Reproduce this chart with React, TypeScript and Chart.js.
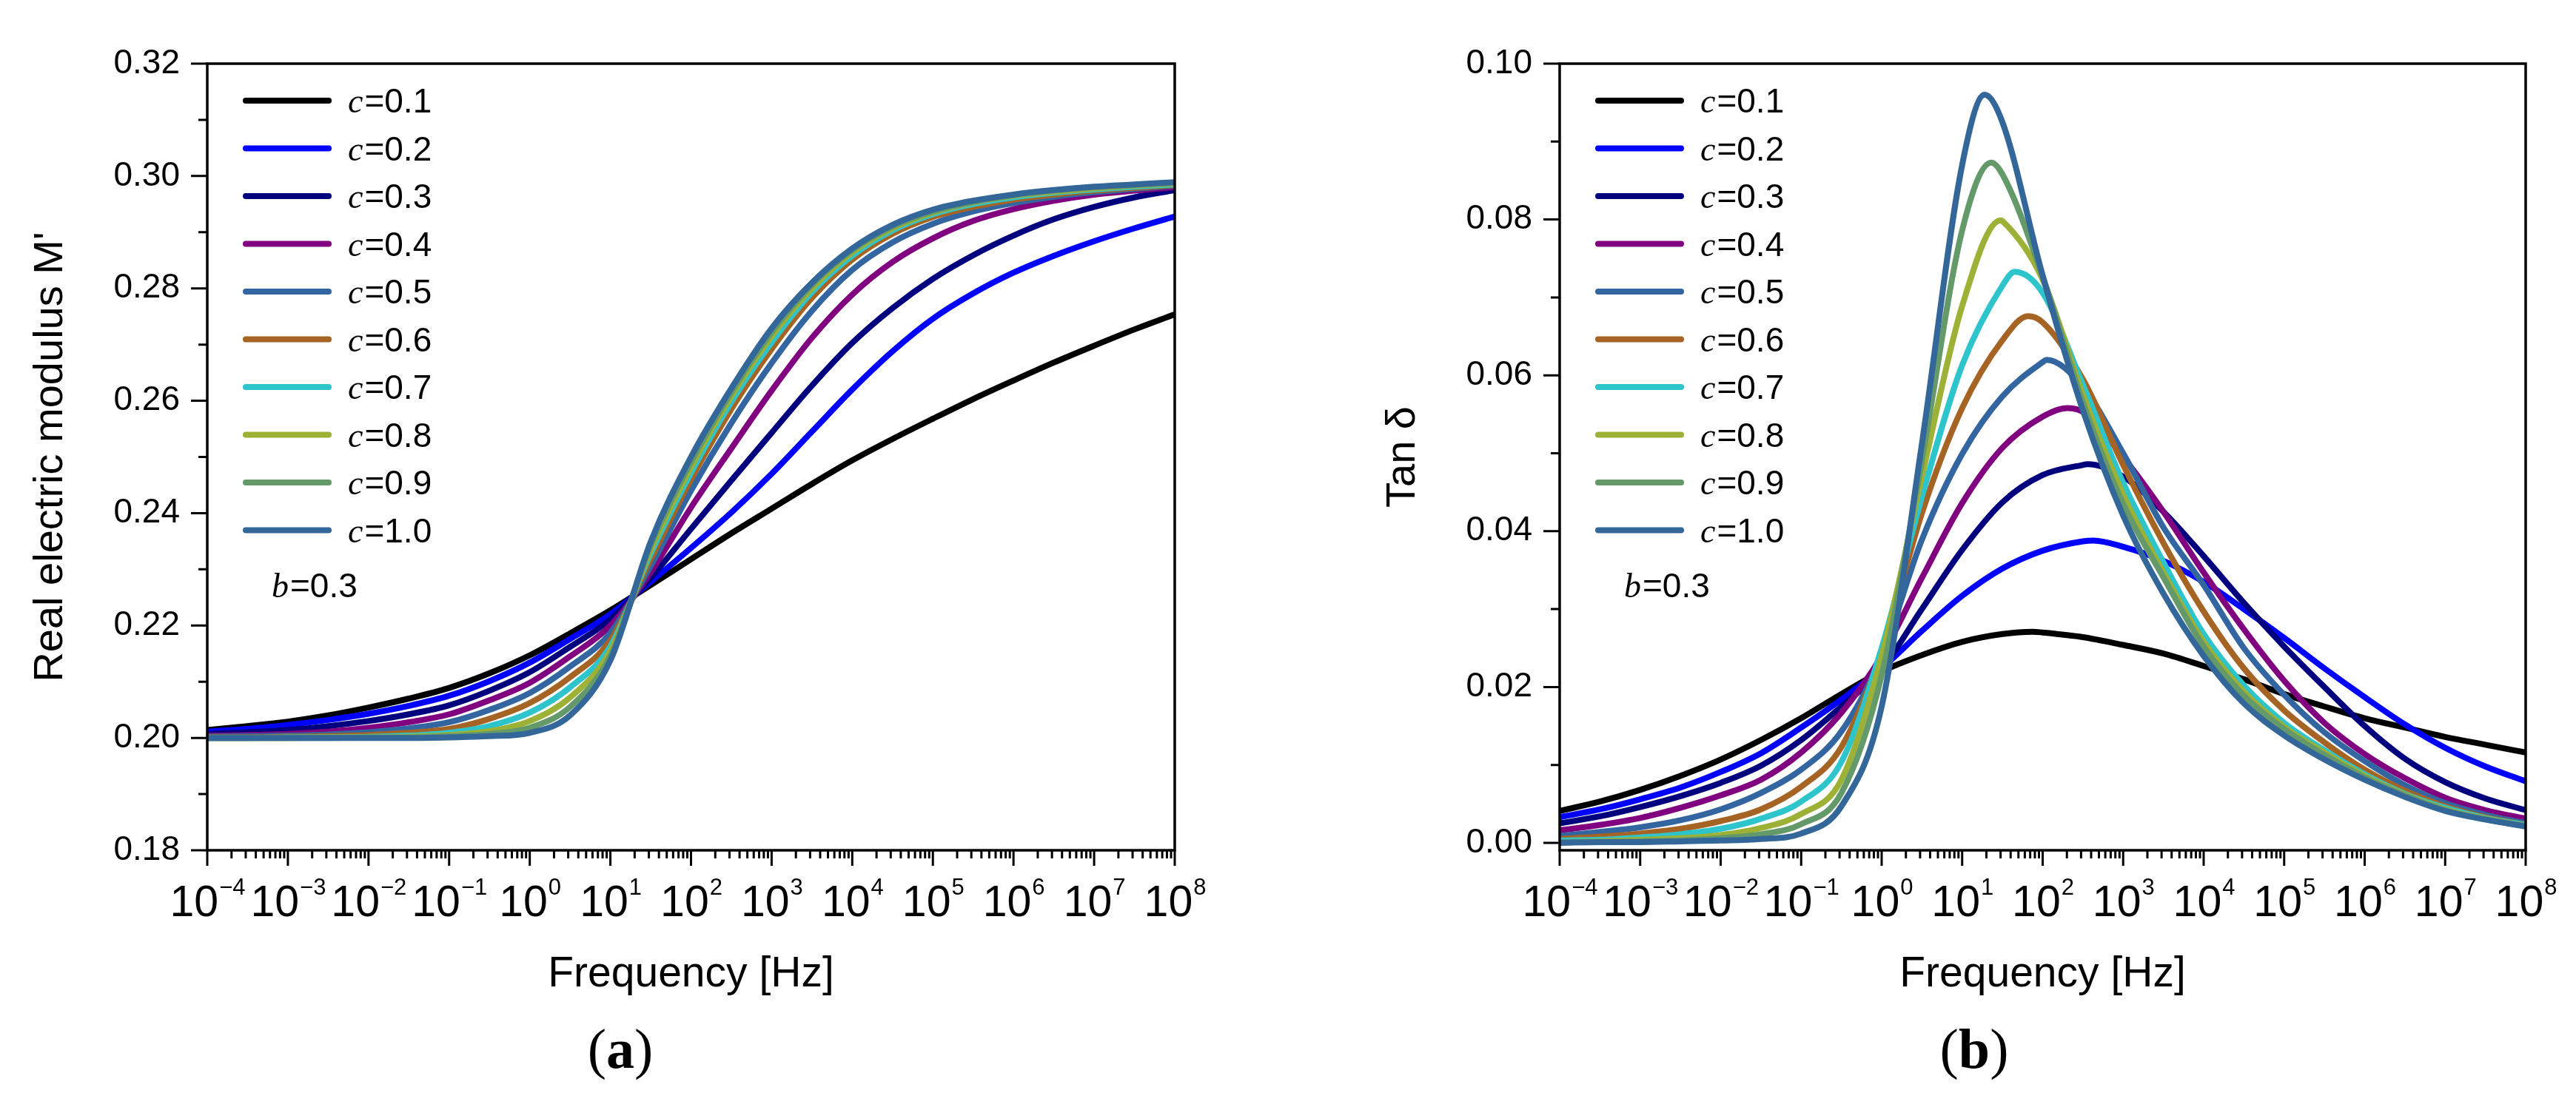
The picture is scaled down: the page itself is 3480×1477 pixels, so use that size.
import { useEffect, useRef } from "react";
import { Chart, registerables } from "chart.js";

Chart.register(...registerables);

const SANS = "'Liberation Sans', Arial, Helvetica, sans-serif";
const SERIF = "'Liberation Serif', 'Times New Roman', Times, serif";

// frequency grid (half decades), Hz
const freqHz = [
  1e-4, 3.16e-4, 1e-3, 3.16e-3, 1e-2, 3.16e-2, 0.1, 0.316, 1, 3.16, 10, 31.6, 100, 316, 1e3,
  3.16e3, 1e4, 3.16e4, 1e5, 3.16e5, 1e6, 3.16e6, 1e7, 3.16e7, 1e8,
];

const cLabels = ["0.1", "0.2", "0.3", "0.4", "0.5", "0.6", "0.7", "0.8", "0.9", "1.0"];
const cColors = [
  "#000000", "#0000FF", "#00007F", "#800080", "#3366A0",
  "#A66424", "#2EC4CC", "#9CB135", "#64996A", "#336699",
];

const xTickExponents = [-4, -3, -2, -1, 0, 1, 2, 3, 4, 5, 6, 7, 8];
const yTicksModulus = [0.18, 0.2, 0.22, 0.24, 0.26, 0.28, 0.3, 0.32];
const yTicksTan = [0, 0.02, 0.04, 0.06, 0.08, 0.1];

// (a) real electric modulus M'
const modC01 = [0.2014, 0.2021, 0.2029, 0.204, 0.2054, 0.207, 0.2089, 0.2115, 0.2147, 0.2186, 0.2227, 0.2272, 0.2318, 0.2364, 0.2408, 0.2452, 0.2494, 0.2532, 0.2568, 0.2603, 0.2636, 0.2668, 0.2698, 0.2727, 0.2754];
const modC02 = [0.2011, 0.2016, 0.2023, 0.2032, 0.2043, 0.2057, 0.2075, 0.2101, 0.2134, 0.2176, 0.222, 0.2278, 0.2338, 0.2401, 0.247, 0.2545, 0.262, 0.2688, 0.2746, 0.2791, 0.2828, 0.2858, 0.2884, 0.2907, 0.2928];
const modC03 = [0.2007, 0.201, 0.2014, 0.2021, 0.203, 0.2042, 0.2058, 0.2084, 0.2117, 0.2162, 0.2211, 0.2285, 0.2372, 0.2458, 0.2543, 0.2627, 0.2703, 0.2765, 0.2817, 0.2859, 0.2894, 0.2923, 0.2945, 0.2962, 0.2975];
const modC04 = [0.2004, 0.2005, 0.2007, 0.2011, 0.2018, 0.2028, 0.2042, 0.2067, 0.2098, 0.2145, 0.22, 0.2295, 0.241, 0.2515, 0.2618, 0.2712, 0.2789, 0.2847, 0.2889, 0.292, 0.2941, 0.2956, 0.2967, 0.2974, 0.298];
const modC05 = [0.2002, 0.2003, 0.2004, 0.2006, 0.201, 0.2017, 0.2028, 0.205, 0.208, 0.2127, 0.2187, 0.2306, 0.244, 0.256, 0.2667, 0.276, 0.2833, 0.2882, 0.2915, 0.2937, 0.2952, 0.2963, 0.2971, 0.2977, 0.2983];
const modC06 = [0.2001, 0.2001, 0.2002, 0.2003, 0.2005, 0.2009, 0.2016, 0.2034, 0.2062, 0.2108, 0.2174, 0.2318, 0.246, 0.2585, 0.2692, 0.2783, 0.2851, 0.2897, 0.2927, 0.2945, 0.2958, 0.2967, 0.2974, 0.2979, 0.2984];
const modC07 = [0.2, 0.2, 0.2001, 0.2001, 0.2002, 0.2004, 0.2009, 0.2021, 0.2045, 0.209, 0.2163, 0.2328, 0.2472, 0.2598, 0.2704, 0.2793, 0.2858, 0.2903, 0.2932, 0.295, 0.2962, 0.297, 0.2976, 0.2981, 0.2985];
const modC08 = [0.2, 0.2, 0.2, 0.2001, 0.2001, 0.2002, 0.2005, 0.2012, 0.203, 0.2072, 0.2155, 0.2335, 0.2482, 0.2608, 0.2715, 0.28, 0.2864, 0.2907, 0.2935, 0.2953, 0.2965, 0.2972, 0.2978, 0.2983, 0.2987];
const modC09 = [0.2, 0.2, 0.2, 0.2, 0.2001, 0.2001, 0.2003, 0.2007, 0.2018, 0.2055, 0.2146, 0.2343, 0.2491, 0.2615, 0.2722, 0.2806, 0.2868, 0.291, 0.2937, 0.2954, 0.2966, 0.2974, 0.298, 0.2984, 0.2988];
const modC10 = [0.2, 0.2, 0.2, 0.2, 0.2, 0.2, 0.2001, 0.2003, 0.2009, 0.204, 0.2138, 0.2349, 0.25, 0.2622, 0.2729, 0.281, 0.2871, 0.2913, 0.294, 0.2956, 0.2967, 0.2975, 0.2981, 0.2985, 0.2989];

// (b) tan delta
const tanC01 = [0.0041, 0.0053, 0.0068, 0.0086, 0.0107, 0.0132, 0.016, 0.0191, 0.022, 0.0241, 0.0258, 0.0268, 0.027, 0.0264, 0.0254, 0.0243, 0.0227, 0.021, 0.0191, 0.0175, 0.016, 0.0148, 0.0136, 0.0126, 0.0116];
const tanC02 = [0.0033, 0.0043, 0.0056, 0.0071, 0.0091, 0.0115, 0.0148, 0.0184, 0.0224, 0.0272, 0.0317, 0.0352, 0.0375, 0.0387, 0.038, 0.0362, 0.0335, 0.03, 0.0263, 0.0224, 0.0187, 0.0152, 0.0122, 0.0098, 0.0079];
const tanC03 = [0.0025, 0.0034, 0.0046, 0.006, 0.0077, 0.0099, 0.0132, 0.0175, 0.0223, 0.03, 0.0376, 0.0437, 0.0472, 0.0485, 0.047, 0.0425, 0.0368, 0.0308, 0.0252, 0.02, 0.015, 0.0108, 0.0078, 0.0057, 0.0042];
const tanC04 = [0.0016, 0.0023, 0.0032, 0.0045, 0.0061, 0.0081, 0.0116, 0.0167, 0.024, 0.034, 0.0436, 0.0507, 0.0547, 0.0553, 0.0495, 0.0425, 0.0347, 0.0274, 0.0208, 0.0154, 0.0114, 0.0083, 0.0058, 0.0042, 0.0031];
const tanC05 = [0.0009, 0.0014, 0.002, 0.0029, 0.0043, 0.0064, 0.0094, 0.0143, 0.024, 0.0389, 0.0499, 0.0573, 0.0617, 0.0585, 0.05, 0.0405, 0.0331, 0.025, 0.019, 0.0142, 0.0105, 0.0074, 0.0051, 0.0036, 0.0025];
const tanC06 = [0.0005, 0.0008, 0.0012, 0.0018, 0.0028, 0.0043, 0.0072, 0.0123, 0.0245, 0.0423, 0.0558, 0.0645, 0.0668, 0.0595, 0.0485, 0.0385, 0.0297, 0.0224, 0.017, 0.0129, 0.0094, 0.0067, 0.0047, 0.0033, 0.0023];
const tanC07 = [0.0003, 0.0004, 0.0007, 0.0011, 0.0018, 0.0031, 0.0053, 0.0104, 0.025, 0.0444, 0.0613, 0.0715, 0.0706, 0.0588, 0.0462, 0.036, 0.0268, 0.0202, 0.0154, 0.0119, 0.0088, 0.0063, 0.0045, 0.0032, 0.0023];
const tanC08 = [0.0001, 0.0002, 0.0004, 0.0006, 0.001, 0.0019, 0.0037, 0.0081, 0.024, 0.047, 0.0689, 0.0798, 0.0723, 0.0575, 0.0447, 0.0347, 0.0258, 0.0194, 0.0149, 0.0116, 0.0086, 0.0062, 0.0043, 0.0031, 0.0022];
const tanC09 = [0.0001, 0.0001, 0.0002, 0.0003, 0.0006, 0.0011, 0.0024, 0.0064, 0.0215, 0.0491, 0.0786, 0.0858, 0.0727, 0.0565, 0.0435, 0.0341, 0.0252, 0.0189, 0.0146, 0.0113, 0.0084, 0.0061, 0.0042, 0.003, 0.0022];
const tanC10 = [0, 0.0001, 0.0001, 0.0002, 0.0003, 0.0005, 0.0012, 0.0047, 0.0175, 0.0512, 0.087, 0.0925, 0.0728, 0.0555, 0.042, 0.032, 0.024, 0.0179, 0.0138, 0.0107, 0.0081, 0.0059, 0.0041, 0.003, 0.0021];

// loss peaks
const tanPeakHz = [76, 427, 360, 200, 112, 66, 45, 30, 23, 19];
const tanPeakValue = [0.0271, 0.0388, 0.0486, 0.0558, 0.062, 0.0676, 0.0733, 0.0799, 0.0873, 0.096];

const modulusSeries = [modC01, modC02, modC03, modC04, modC05, modC06, modC07, modC08, modC09, modC10];
const tanSeries = [tanC01, tanC02, tanC03, tanC04, tanC05, tanC06, tanC07, tanC08, tanC09, tanC10];

type PanelProps = {
  left: number;
  width: number;
  padRight: number;
  axisWidth: number;
  series: number[][];
  peakHz?: number[];
  peakValue?: number[];
  yMin: number;
  yMax: number;
  yTicks: number[];
  yTitle: string;
  yTitlePad: number;
};

const Panel = (p: PanelProps) => {
  const canvasRef = useRef<HTMLCanvasElement | null>(null);

  useEffect(() => {
    if (!canvasRef.current) return;

    const datasets = p.series.map((vals, i) => {
      const pts = freqHz.map((f, j) => ({ x: f, y: vals[j] }));
      if (p.peakHz && p.peakValue) {
        pts.push({ x: p.peakHz[i], y: p.peakValue[i] });
        pts.sort((a, b) => a.x - b.x);
      }
      return {
        label: "c=" + cLabels[i],
        data: pts,
        borderColor: cColors[i],
        backgroundColor: cColors[i],
        borderWidth: 8,
        pointRadius: 0,
        fill: false,
        cubicInterpolationMode: "monotone" as const,
        borderCapStyle: "round" as const,
        borderJoinStyle: "round" as const,
        order: p.series.length - 1 - i,
      };
    });

    // frame, ticks, superscript tick labels and the in-plot legend
    const decor = {
      id: "decor",
      afterDraw(chart: Chart) {
        const { ctx, chartArea: a } = chart;
        const xs = chart.scales.x;
        const ys = chart.scales.y;
        ctx.save();
        ctx.strokeStyle = "#000";
        ctx.lineWidth = 3.5;
        ctx.strokeRect(a.left, a.top, a.right - a.left, a.bottom - a.top);

        ctx.lineWidth = 3;
        ctx.beginPath();
        p.yTicks.forEach((v, i) => {
          const y = ys.getPixelForValue(v);
          ctx.moveTo(a.left - 22, y);
          ctx.lineTo(a.left, y);
          if (i < p.yTicks.length - 1) {
            const ym = ys.getPixelForValue((v + p.yTicks[i + 1]) / 2);
            ctx.moveTo(a.left - 12, ym);
            ctx.lineTo(a.left, ym);
          }
        });
        xTickExponents.forEach((e, i) => {
          const x = xs.getPixelForValue(Math.pow(10, e));
          ctx.moveTo(x, a.bottom);
          ctx.lineTo(x, a.bottom + 21);
          if (i < xTickExponents.length - 1) {
            for (let k = 2; k <= 9; k++) {
              const xm = xs.getPixelForValue(k * Math.pow(10, e));
              ctx.moveTo(xm, a.bottom);
              ctx.lineTo(xm, a.bottom + 11);
            }
          }
        });
        ctx.stroke();

        // 10^n labels
        ctx.fillStyle = "#000";
        ctx.textAlign = "left";
        ctx.textBaseline = "alphabetic";
        xTickExponents.forEach((e) => {
          const x = xs.getPixelForValue(Math.pow(10, e));
          const sup = e < 0 ? "\u2212" + Math.abs(e) : String(e);
          ctx.font = `59px ${SANS}`;
          const wb = ctx.measureText("10").width;
          ctx.font = `31px ${SANS}`;
          const ws = ctx.measureText(sup).width;
          const start = x - (wb + ws) / 2;
          ctx.font = `59px ${SANS}`;
          ctx.fillText("10", start, a.bottom + 89);
          ctx.font = `31px ${SANS}`;
          ctx.fillText(sup, start + wb + 1, a.bottom + 60);
        });

        // legend
        ctx.lineCap = "round";
        ctx.lineWidth = 8;
        const rowY = (k: number) => 136 + k * 64.5;
        chart.data.datasets.forEach((ds, i) => {
          const y = rowY(i);
          ctx.strokeStyle = ds.borderColor as string;
          ctx.beginPath();
          ctx.moveTo(a.left + 52, y);
          ctx.lineTo(a.left + 164, y);
          ctx.stroke();
          ctx.font = `italic 46px ${SERIF}`;
          ctx.fillText("c", a.left + 190, y + 16);
          const wc = ctx.measureText("c").width;
          ctx.font = `46px ${SANS}`;
          ctx.fillText("=" + cLabels[i], a.left + 192 + wc, y + 16);
        });
        const by = rowY(10.15);
        ctx.font = `italic 46px ${SERIF}`;
        ctx.fillText("b", a.left + 87, by + 16);
        const wbv = ctx.measureText("b").width;
        ctx.font = `46px ${SANS}`;
        ctx.fillText("=0.3", a.left + 89 + wbv, by + 16);
        ctx.restore();
      },
    };

    const chart = new Chart(canvasRef.current, {
      type: "line",
      data: { datasets },
      options: {
        animation: false,
        responsive: false,
        devicePixelRatio: 1,
        layout: { padding: { left: 0, right: p.padRight, top: 86, bottom: 0 } },
        plugins: { legend: { display: false }, tooltip: { enabled: false } },
        scales: {
          x: {
            type: "logarithmic",
            min: 1e-4,
            max: 1e8,
            grid: { display: false, drawTicks: false },
            border: { display: false },
            ticks: { display: false },
            title: {
              display: true,
              text: "Frequency [Hz]",
              color: "#000",
              font: { family: SANS, size: 57, lineHeight: 1.2 },
              padding: { top: 0, bottom: 126 },
            },
            afterFit: (s: any) => {
              s.height = 328;
            },
          },
          y: {
            type: "linear",
            min: p.yMin,
            max: p.yMax,
            grid: { display: false, drawTicks: false },
            border: { display: false },
            afterBuildTicks: (s: any) => {
              s.ticks = p.yTicks.map((v) => ({ value: v }));
            },
            ticks: {
              color: "#000",
              font: { family: SANS, size: 46 },
              padding: 37,
              callback: (v: any) => Number(v).toFixed(2),
            },
            title: {
              display: true,
              text: p.yTitle,
              color: "#000",
              font: { family: SANS, size: 56, lineHeight: 1.2 },
              padding: { top: p.yTitlePad, bottom: 0 },
            },
            afterFit: (s: any) => {
              s.width = p.axisWidth;
            },
          },
        },
      },
      plugins: [decor],
    });

    return () => {
      chart.destroy();
    };
  }, []);

  return (
    <canvas
      ref={canvasRef}
      width={p.width}
      height={1477}
      style={{ position: "absolute", left: p.left, top: 0, width: p.width, height: 1477 }}
    />
  );
};

const captionStyle = (x: number) => ({
  position: "absolute" as const,
  left: x,
  top: 1417,
  transform: "translate(-50%, -50%)",
  fontFamily: SERIF,
  fontSize: 76,
  lineHeight: 1,
  color: "#000",
  whiteSpace: "nowrap" as const,
});

export default function App() {
  return (
    <div
      style={{
        position: "fixed",
        left: 0,
        top: 0,
        width: 3480,
        height: 1477,
        background: "#fff",
        overflow: "hidden",
      }}
    >
      <Panel
        left={0}
        width={1740}
        padRight={153}
        axisWidth={280}
        series={modulusSeries}
        yMin={0.18}
        yMax={0.32}
        yTicks={yTicksModulus}
        yTitle="Real electric modulus M'"
        yTitlePad={35}
      />
      <Panel
        left={1740}
        width={1740}
        padRight={68}
        axisWidth={367}
        series={tanSeries}
        peakHz={tanPeakHz}
        peakValue={tanPeakValue}
        yMin={-0.00095}
        yMax={0.1}
        yTicks={yTicksTan}
        yTitle="Tan δ"
        yTitlePad={122}
      />
      <div style={captionStyle(838)}>
        (<b>a</b>)
      </div>
      <div style={captionStyle(2667)}>
        (<b>b</b>)
      </div>
    </div>
  );
}
